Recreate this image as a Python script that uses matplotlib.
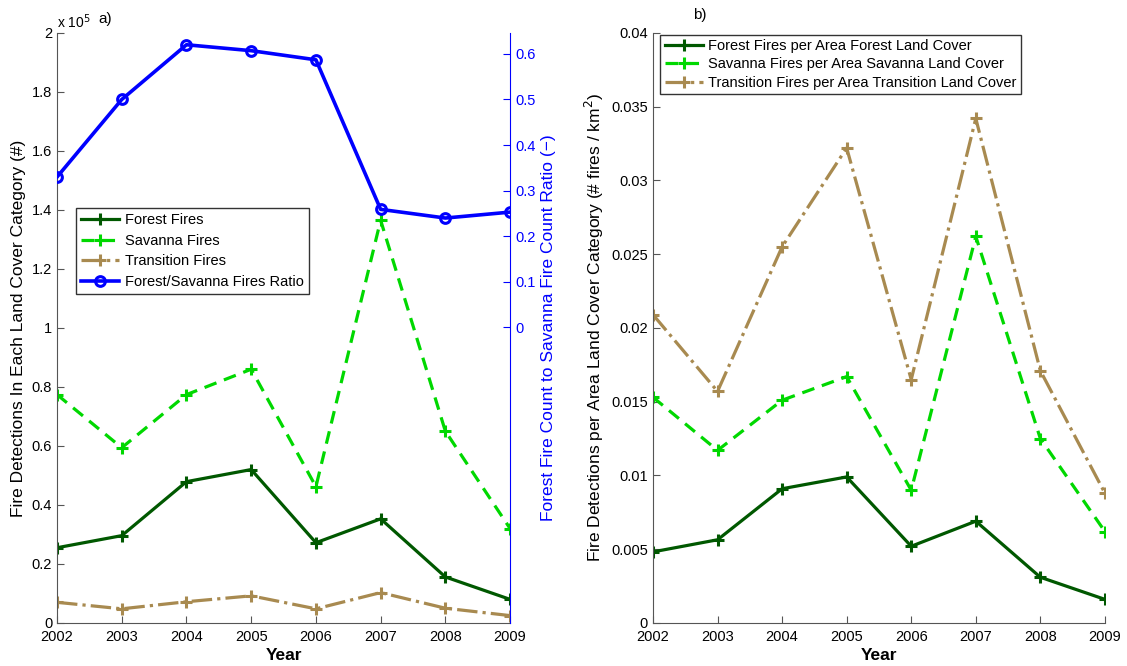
import matplotlib.pyplot as plt
from matplotlib.ticker import FuncFormatter

plt.rcParams['font.family'] = ['Liberation Sans', 'DejaVu Sans']

years = [2002, 2003, 2004, 2005, 2006, 2007, 2008, 2009]

# a) fire detection counts
forest_fires = [25500, 29600, 47900, 52000, 27200, 35300, 15600, 8000]
savanna_fires = [77400, 59400, 77400, 86000, 46200, 136500, 65000, 32000]
transition_fires = [7000, 4800, 7200, 9200, 4800, 10300, 5000, 2500]
ratio = [0.330, 0.500, 0.620, 0.607, 0.587, 0.259, 0.240, 0.253]

# b) fires per area
forest_per_area = [0.00482, 0.00564, 0.0091, 0.0099, 0.0052, 0.0069, 0.0031, 0.0016]
savanna_per_area = [0.0153, 0.0117, 0.0151, 0.0167, 0.0090, 0.0262, 0.0125, 0.0062]
transition_per_area = [0.0209, 0.0157, 0.0255, 0.0322, 0.0165, 0.0342, 0.0171, 0.0088]

c_forest = '#005800'
c_savanna = '#00d800'
c_trans = '#a88a50'
c_ratio = '#0000ff'

fig = plt.figure(figsize=(11.27, 6.66), dpi=100)
ax1 = fig.add_axes([0.0506, 0.0646, 0.402, 0.886])
ax2 = fig.add_axes([0.5794, 0.0646, 0.401, 0.886])

lw = 2.3
mk = dict(marker='+', markersize=8, markeredgewidth=2.2)


def style_axis(ax):
    for side in ['top', 'right']:
        ax.spines[side].set_visible(False)
    for side in ['left', 'bottom']:
        ax.spines[side].set_color('#555555')
    ax.tick_params(direction='in', length=5, labelsize=10.5, color='#555555')
    ax.tick_params(axis='x', pad=5)
    ax.set_xlim(2002, 2009)
    ax.set_xticks(years)


# ---- panel a
l1, = ax1.plot(years, forest_fires, '-', color=c_forest, lw=lw, label='Forest Fires', **mk)
l2, = ax1.plot(years, savanna_fires, '--', color=c_savanna, lw=lw, label='Savanna Fires',
               dashes=(4, 2.5), **mk)
l3, = ax1.plot(years, transition_fires, '-.', color=c_trans, lw=lw, label='Transition Fires', **mk)
style_axis(ax1)
ax1.set_ylim(0, 200000)
ax1.set_yticks([i * 20000 for i in range(11)])
ax1.yaxis.set_major_formatter(FuncFormatter(lambda v, p: f'{v / 1e5:g}'))
ax1.set_xlabel('Year', fontsize=12.5, fontweight='bold', labelpad=3)
ax1.set_ylabel('Fire Detections In Each Land Cover Category (#)', fontsize=12.5, labelpad=4)

ax1r = ax1.twinx()
l4, = ax1r.plot(years, ratio, '-', color=c_ratio, lw=2.6, marker='o', markersize=7,
                markerfacecolor='none', markeredgewidth=2.2, label='Forest/Savanna Fires Ratio')
ax1r.set_ylim(-0.648, 0.646)
ax1r.set_yticks([0, 0.1, 0.2, 0.3, 0.4, 0.5, 0.6])
ax1r.yaxis.set_major_formatter(FuncFormatter(lambda v, p: f'{v:g}'))
for side in ['top', 'left', 'bottom']:
    ax1r.spines[side].set_visible(False)
ax1r.spines['right'].set_color(c_ratio)
ax1r.tick_params(direction='in', length=5, labelsize=10.5, colors=c_ratio)
ax1r.set_ylabel('Forest Fire Count to Savanna Fire Count Ratio (\u2212)', color=c_ratio,
                fontsize=12.5, labelpad=4)
ax1r.set_xlim(2002, 2009)

ax1r.legend(handles=[l1, l2, l3, l4], loc='upper left', bbox_to_anchor=(0.042, 0.703),
            borderaxespad=0, fontsize=10.5, frameon=True, fancybox=False, edgecolor='black',
            handlelength=2.6, borderpad=0.35, labelspacing=0.45, handletextpad=0.4)

fig.text(0.0506, 0.968, r'x 10$^5$', fontsize=10, va='center')
fig.text(0.087, 0.972, 'a)', fontsize=11, va='center')

# ---- panel b
ax2.plot(years, forest_per_area, '-', color=c_forest, lw=lw,
         label='Forest Fires per Area Forest Land Cover', **mk)
ax2.plot(years, savanna_per_area, '--', color=c_savanna, lw=lw, dashes=(4, 2.5),
         label='Savanna Fires per Area Savanna Land Cover', **mk)
ax2.plot(years, transition_per_area, '-.', color=c_trans, lw=lw,
         label='Transition Fires per Area Transition Land Cover', **mk)
style_axis(ax2)
ax2.set_ylim(0, 0.04)
ax2.set_yticks([0, 0.005, 0.01, 0.015, 0.02, 0.025, 0.03, 0.035, 0.04])
ax2.yaxis.set_major_formatter(FuncFormatter(lambda v, p: f'{v:g}'))
ax2.set_xlabel('Year', fontsize=12.5, fontweight='bold', labelpad=3)
ax2.set_ylabel('Fire Detections per Area Land Cover Category (# fires / km$^2$)',
               fontsize=12.5, labelpad=4)
ax2.legend(loc='upper left', bbox_to_anchor=(0.016, 0.997), borderaxespad=0, fontsize=10.5,
           frameon=True, fancybox=False, edgecolor='black', handlelength=2.6, borderpad=0.3,
           labelspacing=0.3, handletextpad=0.4)

fig.text(0.615, 0.977, 'b)', fontsize=11, va='center')

fig.savefig('out.png', dpi=100)
